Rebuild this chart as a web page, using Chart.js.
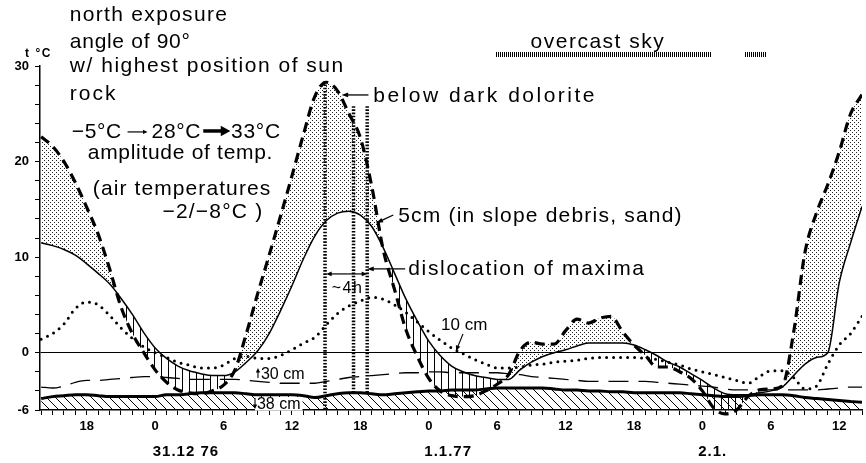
<!DOCTYPE html>
<html>
<head>
<meta charset="utf-8">
<script src="https://cdn.jsdelivr.net/npm/chart.js@4.4.1/dist/chart.umd.min.js"></script>
<style>
  html, body { margin: 0; padding: 0; background: #fff; }
  #wrap { width: 866px; height: 463px; }
</style>
</head>
<body>
<div id="wrap"><canvas id="chart" width="866" height="463"></canvas></div>
<script>
// ==========================
// DATA  (hours counted from 31.12.76 00:00, temperatures in °C)
// ==========================
const hours = [
  -10, -9, -8, -7, -6, -5, -4, -3, -2, -1,
  0, 1, 2, 3, 4, 5, 6, 7, 8, 9,
  10, 11, 12, 13, 14, 15, 16, 17, 18, 19,
  20, 21, 22, 23, 24, 25, 26, 27, 28, 29,
  30, 31, 32, 33, 34, 35, 36, 37, 38, 39,
  40, 41, 42, 43, 44, 45, 46, 47, 48, 49,
  50, 51, 52, 53, 54, 55, 56, 57, 58, 59,
  60, 61, 62
];

// rock surface, below dark dolorite (heavy dashed)
const rockSurface = [
  22.6, 21.6, 20.0, 17.8, 15.2, 12.4, 8.8, 4.8, 2.0, 0.0,
  -1.8, -3.1, -3.9, -4.2, -4.3, -4.0, -3.4, -1.8, 2.0, 6.2,
  10.2, 14.3, 18.5, 22.8, 26.8, 28.3, 27.4, 25.0, 22.5, 17.4,
  10.8, 6.6, 2.4, -0.4, -2.7, -4.0, -4.5, -4.6, -4.5, -4.0,
  -3.3, -2.3, 0.2, 1.1, 0.9, 0.9, 2.3, 3.5, 3.1, 3.6,
  3.8, 2.2, 0.8, -0.3, -1.5, -1.5, -2.0, -2.7, -4.0, -5.8,
  -6.4, -6.0, -4.6, -3.9, -3.8, -3.5, 2.1, 10.5, 14.6, 17.6,
  21.0, 25.0, 27.0
];

// 5 cm in slope debris (thin solid)
const depth5 = [
  11.5, 11.2, 10.8, 10.2, 9.3, 8.3, 7.2, 5.7, 4.0, 2.1,
  0.5, -0.6, -1.4, -1.9, -2.2, -2.4, -2.4, -2.0, -1.0, 0.2,
  2.0, 4.4, 7.0, 9.8, 12.2, 13.8, 14.6, 14.8, 14.4, 13.2,
  11.0, 8.3, 5.6, 3.3, 1.2, -0.3, -1.4, -2.0, -2.4, -2.6,
  -2.8, -2.8, -1.8, -1.0, -0.4, 0.0, 0.3, 0.7, 1.0, 1.0,
  1.0, 1.0, 0.8, 0.3, -0.3, -1.0, -1.5, -2.2, -2.9, -3.7,
  -4.3, -4.4, -4.4, -4.2, -4.0, -3.6, -2.4, -1.2, -0.5, 0.0,
  7.3, 11.5, 15.3
];

// 10 cm (dotted)
const depth10 = [
  1.4, 2.0, 3.0, 4.6, 5.3, 5.0, 3.9, 2.6, 1.5, 0.6,
  0.0, -0.5, -1.0, -1.3, -1.6, -1.6, -1.3, -0.6, -0.4, -0.6,
  -0.6, -0.3, 0.3, 1.0, 1.6, 2.9, 4.1, 4.9, 5.4, 5.8,
  5.6, 5.0, 4.2, 3.2, 2.2, 1.3, 0.5, -0.1, -0.7, -1.2,
  -1.6, -1.6, -1.5, -1.3, -1.2, -1.0, -0.9, -0.8, -0.6, -0.5,
  -0.5, -0.5, -0.5, -0.6, -0.7, -1.0, -1.3, -1.7, -2.0, -2.3,
  -2.6, -2.9, -3.2, -2.5, -1.9, -1.9, -2.6, -3.8, -3.5, -1.2,
  0.8, 2.0, 3.8
];

// 30 cm (long dashes)
const depth30 = [
  -3.6, -3.7, -3.5, -3.1, -2.9, -2.9, -2.8, -2.7, -2.6, -2.5,
  -2.5, -2.6, -2.7, -2.8, -2.8, -2.8, -2.8, -2.8, -2.9, -3.0,
  -3.1, -3.2, -3.2, -3.2, -3.2, -3.0, -2.8, -2.6, -2.5, -2.4,
  -2.3, -2.2, -2.1, -2.1, -2.0, -2.0, -2.1, -2.1, -2.1, -2.1,
  -2.1, -2.2, -2.3, -2.5, -2.6, -2.7, -2.8, -2.9, -3.0, -3.0,
  -3.0, -3.0, -3.0, -3.0, -3.1, -3.2, -3.3, -3.4, -3.5, -3.6,
  -3.8, -3.9, -3.9, -3.9, -3.9, -3.9, -3.9, -3.9, -3.9, -3.8,
  -3.7, -3.6, -3.6
];

// 38 cm (heavy solid, hatched below)
const depth38 = [
  -4.8, -4.6, -4.5, -4.4, -4.4, -4.5, -4.6, -4.6, -4.6, -4.6,
  -4.6, -4.4, -4.4, -4.3, -4.2, -4.2, -4.2, -4.2, -4.3, -4.4,
  -4.4, -4.4, -4.4, -4.5, -4.7, -4.5, -4.3, -4.2, -4.2, -4.3,
  -4.4, -4.3, -4.2, -4.1, -4.0, -4.0, -3.9, -3.9, -3.9, -3.8,
  -3.7, -3.7, -3.7, -3.7, -3.7, -3.8, -3.9, -3.9, -4.0, -4.0,
  -4.1, -4.1, -4.2, -4.2, -4.2, -4.2, -4.2, -4.3, -4.4, -4.5,
  -4.6, -4.6, -4.5, -4.4, -4.4, -4.4, -4.5, -4.7, -4.8, -4.9,
  -5.0, -5.1, -5.2
];

// dislocation of maxima markers
const dislocHours = [14.9, 17.4, 18.6];
const dislocTop = [28.4, 25.8, 25.8];
const dislocBottom = [-6, -4.2, -4.2];

// overcast sky periods (hours)
const overcastStart = [29.9, 51.7];
const overcastEnd = [48.8, 53.6];

// dates under the hour axis
const dateLabels = ["31.12 76", "1.1.77", "2.1."];
const dateHours = [2.7, 25.7, 48.9];

const yLabelled = [30, 20, 10, 0, -6];

// ==========================
// PATTERNS
// ==========================
function makePattern(size, draw) {
  const c = document.createElement("canvas");
  c.width = size;
  c.height = size;
  const g = c.getContext("2d");
  draw(g, size);
  return g.createPattern(c, "repeat");
}

const stipple = makePattern(4, g => {
  g.fillStyle = "#222";
  g.fillRect(0, 0, 1, 1);
  g.fillRect(2, 2, 1, 1);
});

const vHatch = makePattern(7, (g, s) => {
  g.fillStyle = "#000";
  g.fillRect(0, 0, 1, s);
});

const dHatch = makePattern(9, (g, s) => {
  g.strokeStyle = "#000";
  g.lineWidth = 1;
  [-s, 0, s].forEach(o => {
    g.beginPath();
    g.moveTo(o, 0);
    g.lineTo(o + s, s);
    g.stroke();
  });
});

// ==========================
// ANNOTATIONS  [text, hour, °C (baseline), size, letter spacing]
// ==========================
const FONT = '"Liberation Sans", Arial, Helvetica, sans-serif';

const texts = [
  ["north exposure", -7.48, 34.7, 21, 1.3],
  ["angle of 90°", -7.48, 31.9, 21, 0.7],
  ["w/ highest position of sun", -7.48, 29.4, 21, 1.5],
  ["rock", -7.48, 26.4, 21, 2],
  ["−5°C", -7.31, 22.5, 21, 0.6],
  ["28°C", -0.32, 22.5, 21, 0.7],
  ["33°C", 6.66, 22.5, 21, 0.7],
  ["amplitude of temp.", -5.91, 20.3, 21, 0.7],
  ["(air temperatures", -5.47, 16.5, 21, 1.1],
  ["−2/−8°C )", 0.64, 14.1, 21, 1.2],
  ["overcast sky", 32.93, 31.9, 21, 1.5],
  ["below dark dolorite", 19.13, 26.2, 21, 2.5],
  ["5cm (in slope debris, sand)", 21.32, 13.7, 21, 1.2],
  ["dislocation of maxima", 22.19, 8.1, 21, 1.7],
  ["~4h", 15.48, 6.25, 16, 1.5],
  ["10 cm", 25.08, 2.4, 17, 0],
  ["30 cm", 9.28, -2.75, 16, 0],
  ["38 cm", 8.93, -5.89, 16, 0, true]
];

// [from hour, from °C, to hour, to °C, head size, line width, head angle]
const arrows = [
  [18.71, 26.97, 16.35, 26.97, 7, 1.3, 0.35],
  [20.89, 14.41, 19.41, 13.57, 7, 1.3, 0.35],
  [21.93, 8.76, 18.6, 8.76, 7, 1.3, 0.35],
  [16.9, 8.24, 15.0, 8.24, 6, 1.2, 0.4],
  [16.9, 8.24, 18.6, 8.24, 6, 1.2, 0.4],
  [-2.42, 23.1, -0.67, 23.1, 5, 1.2, 0.45],
  [4.22, 23.2, 6.6, 23.2, 11, 3.5, 0.5],
  [27.0, 1.96, 26.39, 0.18, 6, 1.1, 0.4],
  [9.02, -2.65, 9.02, -1.6, 5, 1.1, 0.45],
  [8.76, -4.74, 8.76, -5.89, 5, 1.1, 0.45]
];

function drawArrow(ctx, x1, y1, x2, y2, size, width, ang) {
  const a = Math.atan2(y2 - y1, x2 - x1);
  ctx.lineWidth = width;
  ctx.beginPath();
  ctx.moveTo(x1, y1);
  ctx.lineTo(x2 - Math.cos(a) * size * 0.6, y2 - Math.sin(a) * size * 0.6);
  ctx.stroke();
  ctx.beginPath();
  ctx.moveTo(x2, y2);
  ctx.lineTo(x2 - size * Math.cos(a - ang), y2 - size * Math.sin(a - ang));
  ctx.lineTo(x2 - size * Math.cos(a + ang), y2 - size * Math.sin(a + ang));
  ctx.closePath();
  ctx.fill();
}

const notesPlugin = {
  id: "notes",
  beforeDraw(chart) {
    const ctx = chart.ctx;
    ctx.save();
    ctx.fillStyle = "#fff";
    ctx.fillRect(0, 0, chart.width, chart.height);
    ctx.restore();
  },
  afterDraw(chart) {
    const { ctx, scales: { x, y } } = chart;
    const px = h => x.getPixelForValue(h);
    const py = t => y.getPixelForValue(t);
    ctx.save();
    ctx.fillStyle = "#000";
    ctx.strokeStyle = "#000";

    // overcast sky bars
    overcastStart.forEach((s, i) => {
      const top = py(31.47), bot = py(30.94);
      for (let xp = px(s); xp <= px(overcastEnd[i]); xp += 2) {
        ctx.fillRect(Math.round(xp), top, 1, bot - top);
      }
    });

    // text notes
    ctx.textBaseline = "alphabetic";
    ctx.textAlign = "left";
    texts.forEach(([t, h, v, size, sp, bg]) => {
      ctx.font = `${size}px ${FONT}`;
      ctx.letterSpacing = `${sp}px`;
      const xx = px(h), yy = py(v);
      if (bg) {
        const w = ctx.measureText(t).width;
        ctx.fillStyle = "#fff";
        ctx.fillRect(xx - 2, yy - size * 0.75, w + 4, size * 0.85);
        ctx.fillStyle = "#000";
      }
      ctx.fillText(t, xx, yy);
    });

    // axis unit
    ctx.font = `bold 12px ${FONT}`;
    ctx.letterSpacing = "1.5px";
    ctx.fillText("t °C", px(-11.41), py(30.94));

    // dates
    ctx.font = `bold 15px ${FONT}`;
    ctx.letterSpacing = "1px";
    ctx.textAlign = "center";
    dateLabels.forEach((d, i) => ctx.fillText(d, px(dateHours[i]), py(-10.82)));
    ctx.letterSpacing = "0px";

    // arrows
    arrows.forEach(([h1, t1, h2, t2, s, w, a]) => {
      drawArrow(ctx, px(h1), py(t1), px(h2), py(t2), s, w, a);
    });
    ctx.restore();
  }
};

// ==========================
// CHART
// ==========================
const pts = arr => hours.map((h, i) => ({ x: h, y: arr[i] }));

const dislocSets = dislocHours.map((h, i) => ({
  label: "dislocation " + (i + 1),
  data: [{ x: h, y: dislocTop[i] }, { x: h, y: dislocBottom[i] }],
  borderColor: "#000",
  borderWidth: 3.5,
  borderDash: [1.6, 1.6],
  cubicInterpolationMode: "default",
  tension: 0,
  fill: false
}));

Chart.defaults.font.family = FONT;
Chart.defaults.color = "#000";

const tickFont = { family: FONT, size: 13, weight: "bold" };

new Chart(document.getElementById("chart"), {
  type: "line",
  data: {
    datasets: [
      {
        label: "below dark dolorite",
        data: pts(rockSurface),
        borderColor: "#000",
        borderWidth: 3.2,
        borderDash: [10, 6],
        backgroundColor: "rgba(0,0,0,0)",
        fill: { target: 1, above: stipple, below: vHatch },
        clip: { left: 0, top: 10, right: 0, bottom: 10 }
      },
      {
        label: "5cm",
        data: pts(depth5),
        borderColor: "#000",
        borderWidth: 1.5,
        fill: false
      },
      {
        label: "10cm",
        data: pts(depth10),
        borderColor: "#000",
        borderWidth: 3,
        borderDash: [0, 7],
        borderCapStyle: "round",
        fill: false
      },
      {
        label: "30cm",
        data: pts(depth30),
        borderColor: "#000",
        borderWidth: 1.3,
        borderDash: [20, 10],
        fill: false
      },
      {
        label: "38cm",
        data: pts(depth38),
        borderColor: "#000",
        borderWidth: 3,
        backgroundColor: dHatch,
        fill: "start"
      },
      ...dislocSets
    ]
  },
  options: {
    responsive: false,
    animation: false,
    events: [],
    layout: { padding: { top: 66, left: 0, right: 0, bottom: 0 } },
    elements: {
      point: { radius: 0 },
      line: { cubicInterpolationMode: "monotone" }
    },
    plugins: {
      legend: { display: false },
      tooltip: { enabled: false }
    },
    scales: {
      x: {
        type: "linear",
        min: -10.1,
        max: 62,
        afterFit: s => { s.height = 53; },
        border: { display: true, color: "#000", width: 1.5 },
        grid: { drawOnChartArea: false, tickLength: 5, color: "#000", tickColor: "#000" },
        ticks: {
          stepSize: 1,
          autoSkip: false,
          includeBounds: false,
          maxRotation: 0,
          padding: 4,
          font: tickFont,
          color: "#000",
          callback: v => (v % 6 === 0 ? String(((v % 24) + 24) % 24) : "")
        }
      },
      y: {
        type: "linear",
        min: -6,
        max: 30,
        afterFit: s => { s.width = 40; },
        border: { display: true, color: "#000", width: 1.5 },
        grid: {
          color: c => (c.tick && c.tick.value === 0 ? "#000" : "rgba(0,0,0,0)"),
          lineWidth: 1,
          tickLength: 5,
          tickColor: "#000"
        },
        ticks: {
          stepSize: 2,
          autoSkip: false,
          padding: 6,
          font: tickFont,
          color: "#000",
          callback: v => (yLabelled.includes(v) ? String(v) : "")
        }
      }
    }
  },
  plugins: [notesPlugin]
});
</script>
</body>
</html>
